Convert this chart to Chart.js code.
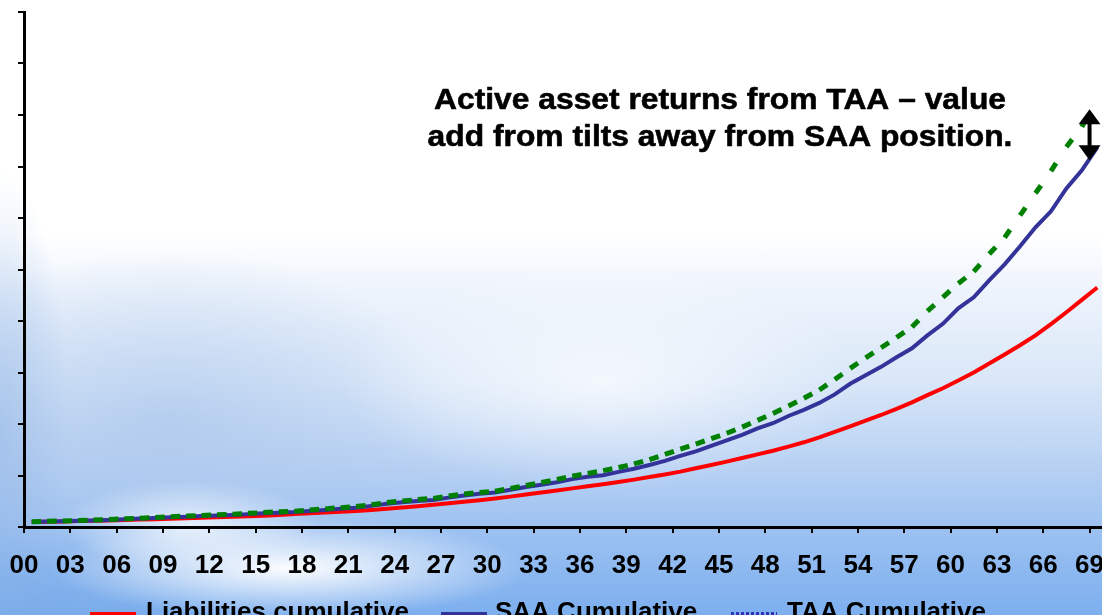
<!DOCTYPE html>
<html>
<head>
<meta charset="utf-8">
<script src="https://cdn.jsdelivr.net/npm/chart.js@4.4.1/dist/chart.umd.min.js"></script>
<style>
  html, body { margin: 0; padding: 0; width: 1102px; height: 615px; overflow: hidden; }
  #sky {
    position: absolute; left: 0; top: 0; width: 1102px; height: 615px;
    background:
      radial-gradient(ellipse 240px 50px at 290px 568px, rgba(255,255,255,0.97), rgba(255,255,255,0) 100%),
      radial-gradient(ellipse 130px 45px at 190px 525px, rgba(248,252,255,0.8), rgba(255,255,255,0) 100%),
      radial-gradient(ellipse 260px 110px at 600px 380px, rgba(255,255,255,0.7), rgba(255,255,255,0) 100%),
      radial-gradient(ellipse 280px 170px at 170px 420px, rgba(168,196,234,0.6), rgba(168,196,234,0) 100%),
      radial-gradient(ellipse 70px 260px at 0px 430px, rgba(140,178,228,0.55), rgba(140,178,228,0) 100%),
      radial-gradient(ellipse 200px 80px at 20px 610px, rgba(120,170,230,0.6), rgba(120,170,230,0) 100%),
      linear-gradient(to bottom, #ffffff 0px, #ffffff 235px, #eef4fc 290px, #d9e7f8 380px, #b8d1f3 465px, #9ac0f1 535px, #7dafef 615px);
  }
  #wrap { position: absolute; left: 0; top: 0; }
</style>
</head>
<body>
<div id="sky"></div>
<div id="wrap"><canvas id="chart" width="1110" height="640" style="width:1110px;height:640px"></canvas></div>
<script>
// Years 2000-2069, shown as two-digit labels
const years = ['00','01','02','03','04','05','06','07','08','09',
               '10','11','12','13','14','15','16','17','18','19',
               '20','21','22','23','24','25','26','27','28','29',
               '30','31','32','33','34','35','36','37','38','39',
               '40','41','42','43','44','45','46','47','48','49',
               '50','51','52','53','54','55','56','57','58','59',
               '60','61','62','63','64','65','66','67','68','69'];

// Every third year is labelled on the axis
const tickLabels = ['00','03','06','09','12','15','18','21','24','27','30','33',
                    '36','39','42','45','48','51','54','57','60','63','66','69'];

const liabilitiesCumulative = [
  9.7,10.3,10.9,11.5,12.1,12.8,13.6,14.4,15.2,16.0,16.9,17.9,18.9,19.9,21.0,
  22.0,23.5,25.0,26.5,28.0,29.5,31.0,33.0,35.5,
  38.0,40.5,43.0,46.0,49.0,52.0,55.5,59.0,63.0,67.0,71.0,75.0,79.0,83.0,87.5,92.0,97.0,102.0,107.5,
  114.0,120.5,127.0,134.0,141.0,148.0,156.0,164.5,174.0,184.5,195.5,206.5,217.5,229.5,242.0,256.0,
  269.5,284.5,300.0,317.5,335.0,353.0,372.0,394.0,417.0,441.0,465.0
];

const saaCumulative = [
  9.7,10.5,11.2,12.0,12.8,13.8,15.0,16.3,17.6,18.9,20.1,21.2,22.3,23.5,25.0,
  26.5,27.8,29.0,30.9,33.2,35.5,37.5,41.0,45.0,48.0,50.3,52.5,57.0,61.0,64.5,
  67.0,72.5,77.5,82.0,87.0,93.0,97.5,100.5,107.0,113.0,120.5,128.5,138.0,147.0,157.5,
  168.0,179.0,191.5,201.5,215.5,227.5,241.0,257.5,278.0,294.5,311.0,329.5,347.0,372.0,394.5,
  424.5,446.0,479.0,510.0,545.0,582.0,613.0,657.5,692.5,737.0
];

const taaCumulative = [
  10.0,11.0,11.8,12.6,13.5,14.6,15.8,17.1,18.5,19.9,21.2,22.4,23.6,24.9,26.5,
  28.0,29.5,30.8,32.8,35.2,37.6,39.8,43.4,47.5,50.6,53.2,55.6,60.2,64.3,67.0,
  69.5,75.0,80.5,86.5,92.5,98.5,104.0,109.5,115.5,122.5,131.0,141.0,151.0,161.0,171.5,
  182.0,194.0,207.0,220.5,235.0,250.0,266.0,286.5,308.0,328.5,348.0,368.0,388.5,419.0,446.0,
  473.0,496.0,530.0,562.0,605.0,648.0,691.0,738.0,777.0,832.0
];

// Callout: text and the double arrow marking the TAA/SAA gap
const calloutLines = ['Active asset returns from TAA \u2013 value', 'add from tilts away from SAA position.'];
const arrowYear = 69.0;
const arrowTop = 811;
const arrowBottom = 712;

const FONT = '"Liberation Sans", Arial, Helvetica, sans-serif';

const calloutPlugin = {
  id: 'callout',
  afterDatasetsDraw(chart) {
    const ctx = chart.ctx;
    const xs = chart.scales.xTicks, ys = chart.scales.y;
    // double-headed arrow
    const ax = xs.getPixelForValue(arrowYear);
    const yT = ys.getPixelForValue(arrowTop);
    const yB = ys.getPixelForValue(arrowBottom);
    const head = 15, half = 11;
    ctx.save();
    ctx.fillStyle = '#000';
    ctx.strokeStyle = '#000';
    ctx.lineWidth = 4;
    ctx.beginPath();
    ctx.moveTo(ax, yT + head - 1);
    ctx.lineTo(ax, yB - head + 1);
    ctx.stroke();
    ctx.beginPath();
    ctx.moveTo(ax, yT);
    ctx.lineTo(ax + half, yT + head);
    ctx.lineTo(ax - half, yT + head);
    ctx.closePath();
    ctx.fill();
    ctx.beginPath();
    ctx.moveTo(ax, yB);
    ctx.lineTo(ax + half, yB - head);
    ctx.lineTo(ax - half, yB - head);
    ctx.closePath();
    ctx.fill();

    // callout text, slightly emboldened
    ctx.font = 'bold 30px ' + FONT;
    ctx.textAlign = 'center';
    ctx.textBaseline = 'alphabetic';
    ctx.lineWidth = 0.6;
    ctx.lineJoin = 'round';
    const cx = 720;
    const baselines = [109, 146];
    calloutLines.forEach((line, k) => {
      ctx.save();
      ctx.translate(cx, baselines[k]);
      ctx.scale(1.06, 1);
      ctx.fillText(line, 0, 0);
      ctx.strokeText(line, 0, 0);
      ctx.restore();
    });
    ctx.restore();
  }
};

// Legend row along the bottom edge
const legendPlugin = {
  id: 'bottomLegend',
  afterDraw(chart) {
    const ctx = chart.ctx;
    const items = [
      { ds: 0, boxX: 90, textX: 146 },
      { ds: 1, boxX: 441, textX: 495 },
      { ds: 2, boxX: 731, textX: 787, dotted: true }
    ];
    ctx.save();
    ctx.font = 'bold 26px ' + FONT;
    ctx.textAlign = 'left';
    ctx.textBaseline = 'alphabetic';
    items.forEach(it => {
      const ds = chart.data.datasets[it.ds];
      ctx.beginPath();
      ctx.lineWidth = 7;
      if (it.dotted) {
        ctx.strokeStyle = '#3333bb';
        ctx.setLineDash([3, 2]);
      } else {
        ctx.strokeStyle = ds.borderColor;
        ctx.setLineDash([]);
      }
      ctx.moveTo(it.boxX, 615.5);
      ctx.lineTo(it.boxX + 46, 615.5);
      ctx.stroke();
      ctx.setLineDash([]);
      ctx.fillStyle = '#000';
      ctx.fillText(ds.label, it.textX, 620);
    });
    ctx.restore();
  }
};

new Chart(document.getElementById('chart'), {
  type: 'line',
  data: {
    labels: years,
    datasets: [
      {
        label: 'Liabilities cumulative',
        data: liabilitiesCumulative,
        borderColor: '#ff0000',
        borderWidth: 4,
        pointRadius: 0,
        tension: 0,
        order: 2
      },
      {
        label: 'SAA Cumulative',
        data: saaCumulative,
        borderColor: '#333399',
        borderWidth: 4,
        pointRadius: 0,
        tension: 0,
        order: 1
      },
      {
        label: 'TAA Cumulative',
        data: taaCumulative,
        borderColor: '#008000',
        borderWidth: 5,
        borderDash: [9.5, 40],
        borderCapStyle: 'butt',
        pointRadius: 0,
        tension: 0,
        order: 0,
        // restart the dash on every year so each step gets one dash
        segment: {
          borderDashOffset: c => (c.p0DataIndex % 2 ? 0 : 0.001)
        }
      }
    ]
  },
  options: {
    responsive: false,
    animation: false,
    events: [],
    layout: { padding: { top: 12, right: 5, left: 0, bottom: 0 } },
    plugins: { legend: { display: false }, tooltip: { enabled: false } },
    scales: {
      x: {
        type: 'category',
        display: false,
        offset: true
      },
      xTicks: {
        type: 'linear',
        position: 'bottom',
        min: 0,
        max: 70,
        afterBuildTicks: s => { s.ticks = tickLabels.map((_, k) => ({ value: k * 3 })); },
        afterFit: s => { s.height = 113; s.paddingLeft = 0; s.paddingRight = 0; },
        border: { display: true, color: '#000', width: 3 },
        grid: { drawOnChartArea: false, drawTicks: true, tickLength: 6, color: '#000', lineWidth: 2 },
        ticks: {
          stepSize: 3,
          autoSkip: false,
          maxRotation: 0,
          padding: 17,
          color: '#000',
          font: { family: FONT, size: 26, weight: 'bold' },
          callback: (v, k) => tickLabels[k]
        }
      },
      y: {
        type: 'linear',
        min: 0,
        max: 1000,
        afterFit: s => { s.width = 24; },
        border: { display: true, color: '#000', width: 3 },
        grid: { drawOnChartArea: false, drawTicks: true, tickLength: 6, color: '#000', lineWidth: 2 },
        ticks: { stepSize: 100, display: false }
      }
    }
  },
  plugins: [calloutPlugin, legendPlugin]
});
</script>
</body>
</html>
